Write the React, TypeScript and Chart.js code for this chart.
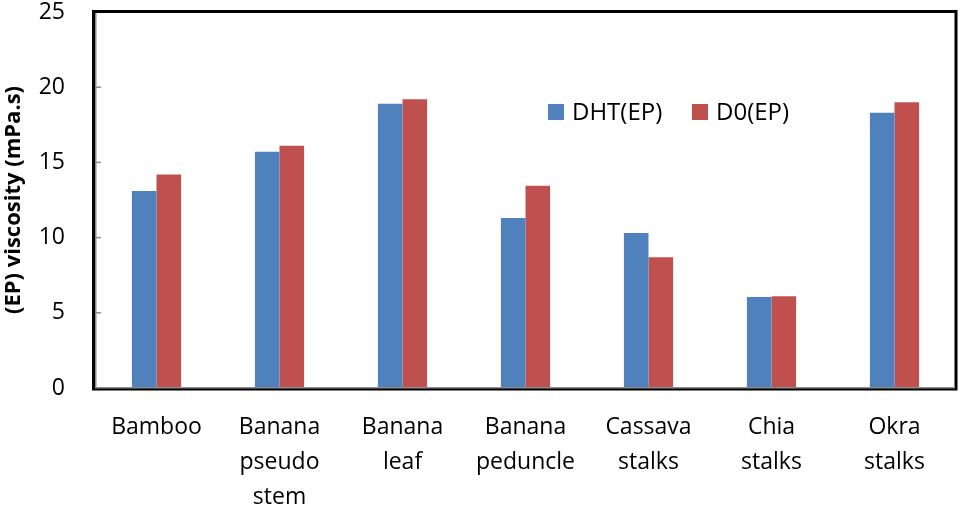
import React, { useEffect, useRef } from "react";
import { Chart, registerables } from "chart.js";

Chart.register(...registerables);

const categories: string[][] = [
  ["Bamboo"],
  ["Banana", "pseudo", "stem"],
  ["Banana", "leaf"],
  ["Banana", "peduncle"],
  ["Cassava", "stalks"],
  ["Chia", "stalks"],
  ["Okra", "stalks"],
];
const dhtValues = [13.1, 15.7, 18.9, 11.3, 10.3, 6.05, 18.3];
const d0Values = [14.2, 16.1, 19.2, 13.45, 8.7, 6.1, 19.0];
const seriesLabels = ["DHT(EP)", "D0(EP)"];
const seriesColors = ["#4F81BD", "#C0504D"];
const yTicks = { min: 0, max: 25, step: 5 };
const yTitle = "(EP) viscosity (mPa.s)";

const FONT = "'Open Sans', 'Noto Sans', sans-serif";

const framePlugin = {
  id: "frame",
  afterDatasetsDraw(chart: any) {
    const { ctx, chartArea } = chart;
    const { left, right, top, bottom } = chartArea;
    const y = chart.scales.y;
    ctx.save();
    ctx.strokeStyle = "#8c8c8c";
    ctx.lineWidth = 1.5;
    y.ticks.forEach((t: any) => {
      const py = y.getPixelForValue(t.value);
      ctx.beginPath();
      ctx.moveTo(left, py);
      ctx.lineTo(left + 6, py);
      ctx.stroke();
    });
    ctx.strokeStyle = "#000";
    ctx.lineWidth = 3;
    ctx.strokeRect(left - 1.5, top - 0.5, right - left + 1.5, bottom - top + 1.5);
    ctx.strokeStyle = "#8c8c8c";
    ctx.lineWidth = 1.5;
    ctx.beginPath();
    ctx.moveTo(left + 0.75, top + 1);
    ctx.lineTo(left + 0.75, bottom - 0.25);
    ctx.lineTo(right - 1, bottom - 0.25);
    ctx.stroke();
    ctx.restore();
  },
};

const legendPlugin = {
  id: "insideLegend",
  afterDraw(chart: any) {
    const { ctx } = chart;
    const starts = [548, 692];
    const cy = 112;
    ctx.save();
    ctx.font = `24px ${FONT}`;
    ctx.textBaseline = "middle";
    ctx.textAlign = "left";
    chart.data.datasets.forEach((ds: any, i: number) => {
      const x = starts[i];
      ctx.fillStyle = ds.backgroundColor;
      ctx.fillRect(x, cy - 8, 16, 16);
      ctx.fillStyle = "#000";
      ctx.fillText(ds.label, x + 24, cy + 1);
    });
    ctx.restore();
  },
};

export default function App() {
  const ref = useRef<HTMLCanvasElement | null>(null);
  useEffect(() => {
    if (!ref.current) return;
    const chart = new Chart(ref.current, {
      type: "bar",
      data: {
        labels: categories,
        datasets: [
          { label: seriesLabels[0], data: dhtValues, backgroundColor: seriesColors[0] },
          { label: seriesLabels[1], data: d0Values, backgroundColor: seriesColors[1] },
        ],
      },
      options: {
        responsive: false,
        animation: false,
        devicePixelRatio: 1,
        layout: { padding: { top: 12, right: 9, left: 0, bottom: 0 } },
        datasets: { bar: { barPercentage: 1, categoryPercentage: 0.4 } },
        plugins: { legend: { display: false }, tooltip: { enabled: false } },
        scales: {
          x: {
            grid: { display: false, drawTicks: false },
            border: { display: false },
            ticks: {
              color: "#000",
              font: { family: FONT, size: 23, lineHeight: 35 / 23 },
              padding: 22,
              autoSkip: false,
              maxRotation: 0,
              minRotation: 0,
            },
            afterFit(scale: any) {
              scale.height = 117;
              scale.paddingLeft = 0;
              scale.paddingRight = 0;
            },
          },
          y: {
            min: yTicks.min,
            max: yTicks.max,
            grid: { display: false, drawTicks: false },
            border: { display: false },
            ticks: {
              stepSize: yTicks.step,
              color: "#000",
              font: { family: FONT, size: 23 },
              padding: 30,
            },
            title: {
              display: true,
              text: yTitle,
              color: "#000",
              font: { family: FONT, size: 22, weight: "bold", lineHeight: 1.2 },
              padding: { top: 1, bottom: 0 },
            },
            afterFit(scale: any) {
              scale.width = 95;
              scale.paddingTop = 0;
              scale.paddingBottom = 0;
            },
          },
        },
      },
      plugins: [framePlugin, legendPlugin],
    });
    return () => chart.destroy();
  }, []);
  return (
    <div style={{ position: "fixed", left: 0, top: 0, width: 965, height: 505, background: "#fff" }}>
      <canvas ref={ref} width={965} height={505} style={{ width: 965, height: 505, display: "block" }} />
    </div>
  );
}
